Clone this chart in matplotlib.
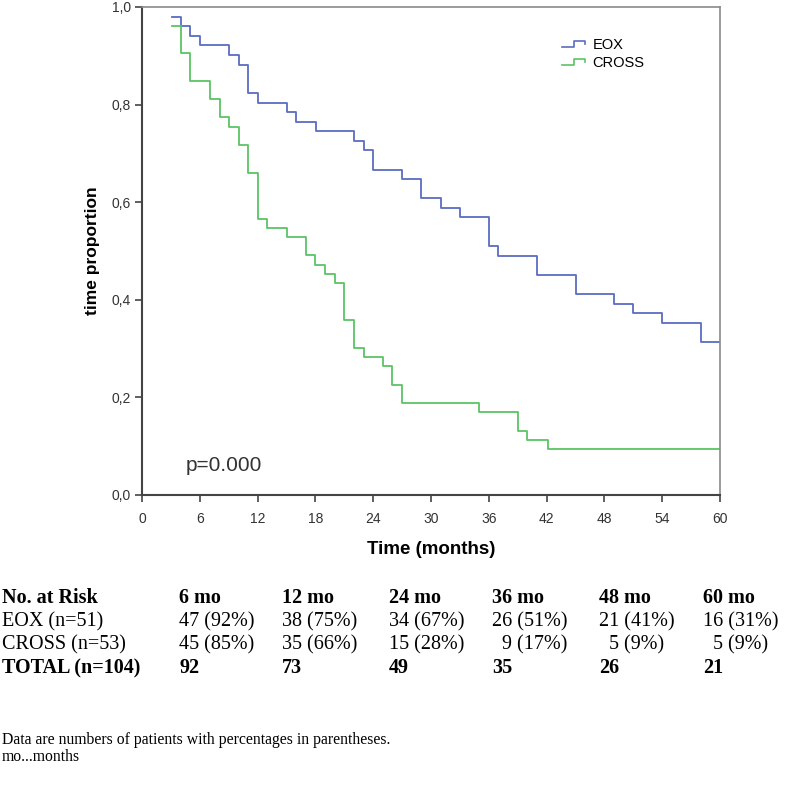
import numpy as np
import matplotlib
matplotlib.use("Agg")
import matplotlib.pyplot as plt
from matplotlib.legend_handler import HandlerBase
from matplotlib.lines import Line2D

# survival curves (time in months, proportion after the step)
eox_time = [3.1, 4.1, 5.0, 6.0, 9.0, 10.1, 11.0, 12.05, 15.0, 16.0, 18.1, 22.0, 23.0,
            24.0, 27.0, 29.0, 31.0, 33.0, 36.0, 37.0, 41.0, 45.0, 49.0, 51.0, 54.0, 58.0]
eox_prop = [0.980, 0.961, 0.941, 0.922, 0.902, 0.882, 0.824, 0.804, 0.784, 0.765, 0.745,
            0.725, 0.706, 0.667, 0.647, 0.608, 0.588, 0.569, 0.510, 0.490, 0.451, 0.412,
            0.392, 0.373, 0.353, 0.314]

cross_time = [3.1, 4.0, 5.0, 7.05, 8.1, 9.07, 10.07, 11.0, 12.05, 13.0, 15.0, 17.0, 18.0,
              19.0, 20.0, 21.0, 22.0, 23.0, 25.0, 26.0, 27.0, 35.0, 39.0, 40.0, 42.1]
cross_prop = [0.962, 0.906, 0.849, 0.811, 0.774, 0.755, 0.717, 0.660, 0.566, 0.547, 0.528,
              0.491, 0.472, 0.453, 0.434, 0.358, 0.302, 0.283, 0.264, 0.226, 0.189, 0.170,
              0.132, 0.113, 0.094]
t_end = 60

x_ticks = [0, 6, 12, 18, 24, 30, 36, 42, 48, 54, 60]
y_ticks = [0.0, 0.2, 0.4, 0.6, 0.8, 1.0]
y_tick_labels = ["0,0", "0,2", "0,4", "0,6", "0,8", "1,0"]

# number at risk table
risk_header = ["No. at Risk", "6 mo", "12 mo", "24 mo", "36 mo", "48 mo", "60 mo"]
risk_eox = ["EOX (n=51)", "47 (92%)", "38 (75%)", "34 (67%)", "26 (51%)", "21 (41%)", "16 (31%)"]
risk_cross = ["CROSS (n=53)", "45 (85%)", "35 (66%)", "15 (28%)", "  9 (17%)", "  5 (9%)", "  5 (9%)"]
risk_total = ["TOTAL (n=104)", "92", "73", "49", "35", "26", "21"]

blue = "#5b6cc2"
green = "#5cc466"

W, H = 787, 790
fig = plt.figure(figsize=(W / 100, H / 100), dpi=100)
plt.rcParams["font.family"] = ["Liberation Sans", "DejaVu Sans"]

left, right, top, bottom = 142, 720, 7, 495
ax = fig.add_axes([left / W, 1 - bottom / H, (right - left) / W, (bottom - top) / H])

ax.step(eox_time + [t_end], eox_prop + [eox_prop[-1]], where="post", color=blue, lw=1.3, label="EOX")
ax.step(cross_time + [t_end], cross_prop + [cross_prop[-1]], where="post", color=green, lw=1.3, label="CROSS")

ax.set_xlim(0, 60)
ax.set_ylim(0, 1)
ax.set_xticks(x_ticks)
ax.set_yticks(y_ticks)
ax.set_yticklabels(y_tick_labels)
ax.tick_params(labelsize=10, length=5, width=1.2, colors="#444444", labelcolor="#333333")
ax.tick_params(axis="x", pad=7)
ax.tick_params(axis="y", pad=3)

for side in ["left", "bottom"]:
    ax.spines[side].set_color("#444444")
    ax.spines[side].set_linewidth(1.5)
for side in ["top", "right"]:
    ax.spines[side].set_color("#8a8a8a")
    ax.spines[side].set_linewidth(1.2)

ax.set_xlabel("Time (months)", fontsize=13.5, fontweight="bold", va="center")
ax.xaxis.set_label_coords(0.5, (bottom - 549) / (bottom - top))
ax.set_ylabel("time proportion", fontsize=12.5, fontweight="bold", va="center")
ax.yaxis.set_label_coords((93 - left) / (right - left), 0.5)

ax.text(4.5, 0.061, "p=0.000", fontsize=15, va="center", color="#333333")


class StepHandler(HandlerBase):
    def create_artists(self, legend, orig_handle, xdescent, ydescent, width, height, fontsize, trans):
        lo, hi = 0.15 * height, 0.75 * height
        xs = [0, 0.5 * width, 0.5 * width, width, width]
        ys = [lo, lo, hi, hi, 0.45 * height]
        line = Line2D(np.array(xs) - xdescent, np.array(ys) - ydescent,
                      color=orig_handle.get_color(), lw=1.2, transform=trans)
        return [line]


handles = ax.get_lines()
ax.legend(handles=handles, labels=["EOX", "CROSS"], handler_map={Line2D: StepHandler()},
          loc="upper left", bbox_to_anchor=(562 / W, 1 - 38 / H), bbox_transform=fig.transFigure,
          frameon=False, fontsize=10.5, borderpad=0, borderaxespad=0, handlelength=1.6,
          handletextpad=0.5, labelspacing=0.25)

# table below the chart
col_x = [2, 179, 282, 389, 492, 599, 703]
row_y = [598, 622, 645, 668]
rows = [risk_header, risk_eox, risk_cross, risk_total]
for r, (row, y) in enumerate(zip(rows, row_y)):
    bold = r in (0, 3)
    for x, txt in zip(col_x, row):
        fig.text(x / W, 1 - y / H, txt, family="Liberation Serif", fontsize=14.5,
                 fontweight="bold" if bold else "normal", va="center", ha="left")

fig.text(2 / W, 1 - 740 / H, "Data are numbers of patients with percentages in parentheses.",
         family="Liberation Serif", fontsize=11.3, va="center")
fig.text(2 / W, 1 - 757 / H, "mo...months", family="Liberation Serif", fontsize=11.3, va="center")

fig.savefig("out.png", dpi=100, facecolor="white")
